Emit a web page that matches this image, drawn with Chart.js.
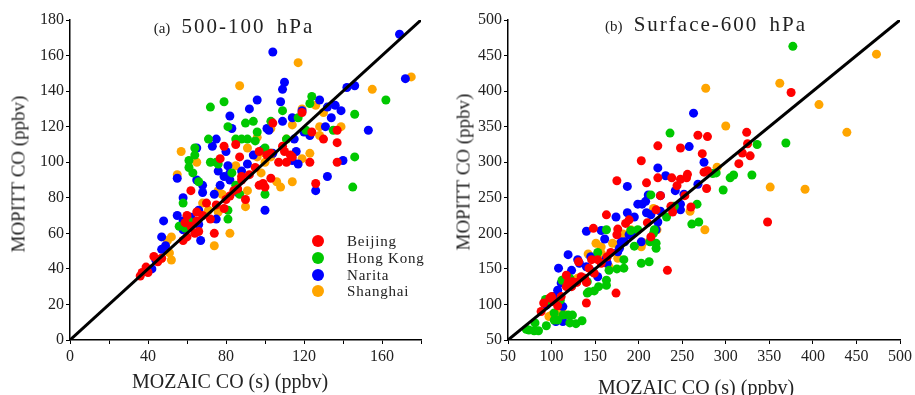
<!DOCTYPE html>
<html>
<head>
<meta charset="utf-8">
<script src="https://cdn.jsdelivr.net/npm/chart.js@4.4.1/dist/chart.umd.min.js"></script>
<style>
  body { margin: 0; background: #fff; }
  #wrap { position: relative; width: 915px; height: 395px; font-family: 'Liberation Serif', serif; color: #222; }
  .panel { position: absolute; top: 0; }
  .ttl { position: absolute; white-space: nowrap; transform: translate(-50%, -50%); line-height: 1; }
  .ytl { position: absolute; white-space: nowrap; transform: translate(-50%, -50%) rotate(-90deg); font-size: 19px; line-height: 1; }
  .leg { position: absolute; font-size: 15px; letter-spacing: 0.8px; line-height: 1; }
  .leg span { position: absolute; width: 12px; height: 12px; border-radius: 50%; }
</style>
</head>
<body>
<div id="wrap">
  <div class="panel" style="left:0;width:455px;height:395px"><canvas id="chartA" width="455" height="395"></canvas></div>
  <div class="panel" style="left:455px;width:460px;height:395px"><canvas id="chartB" width="460" height="395"></canvas></div>

  <div class="ttl" style="left:234px;top:26px;font-size:21px;letter-spacing:2px;word-spacing:4px"><span style="font-size:15px;letter-spacing:0">(a)</span> 500-100 hPa</div>
  <div class="ttl" style="left:706px;top:24px;font-size:21px;letter-spacing:2px;word-spacing:4px"><span style="font-size:15px;letter-spacing:0">(b)</span> Surface-600 hPa</div>

  <div class="ttl" style="left:230px;top:381px;font-size:20px">MOZAIC CO (s) (ppbv)</div>
  <div class="ttl" style="left:696px;top:387px;font-size:20px">MOZAIC CO (s) (ppbv)</div>
  <div class="ytl" style="left:18px;top:174px">MOPITT CO (ppbv)</div>
  <div class="ytl" style="left:463px;top:172px">MOPITT CO (ppbv)</div>

  <div id="legend"></div>
</div>

<script>
// station names and colours
var stations = ['Beijing', 'Hong Kong', 'Narita', 'Shanghai'];
var colors = ['#ff0000', '#00c800', '#0000ff', '#ffa500'];

// (a) 500-100 hPa, [MOZAIC, MOPITT] pairs
var beijingA = [[119,128],[137,118],[130,113],[124,117],[137,111],[137,100],[123,100],[126,88],[107,100],[109,109],[110,106],[113,104],[114,103],[104,122],[97,106],[103,91],[99,88],[100,86],[97,87],[90,79],[85,110],[79,109],[77,102],[87,103],[88,92],[62,84],[60,70],[75,76],[70,77],[72,68],[74,60],[66,61],[64,60],[58,56],[60,58],[62,64],[65,67],[82,81],[80,79],[79,74],[39,41],[37,38],[36,36],[40,38],[43,47],[59,66],[111,100],[84,84],[86,85],[88,90],[92,93],[101,104],[103,105],[95,97],[65,72],[68,70],[45,44],[47,46]];
var hongkongA = [[162,135],[146,127],[146,103],[145,86],[124,137],[123,133],[109,129],[103,123],[117,125],[94,123],[90,122],[96,117],[91,113],[85,113],[88,113],[95,112],[135,118],[121,118],[72,131],[79,134],[81,120],[71,113],[64,108],[64,104],[61,101],[61,97],[63,94],[72,100],[75,100],[76,99],[58,77],[66,89],[100,108],[100,82],[87,82],[81,73],[81,68],[56,64],[59,63],[61,67],[83,94],[85,87],[103,105],[111,113]];
var naritaA = [[104,162],[169,172],[172,147],[110,145],[109,141],[96,135],[108,134],[92,130],[82,126],[83,119],[75,113],[73,109],[65,108],[80,106],[55,91],[65,90],[58,80],[68,87],[68,83],[74,82],[77,87],[76,95],[81,98],[79,92],[82,94],[82,90],[86,83],[88,95],[91,99],[94,104],[99,107],[101,119],[109,123],[114,125],[119,129],[115,113],[116,106],[114,101],[117,99],[120,117],[123,115],[128,135],[132,131],[134,125],[136,132],[139,129],[142,142],[146,143],[153,118],[131,120],[140,101],[132,92],[126,84],[100,73],[48,67],[47,58],[55,70],[58,67],[58,62],[62,69],[66,65],[67,56],[66,73],[75,68],[47,51],[44,45],[42,40],[49,53],[104,105],[102,118]];
var shanghaiA = [[117,156],[175,148],[155,141],[87,143],[119,130],[126,132],[130,128],[128,120],[139,120],[128,115],[123,105],[114,89],[108,86],[106,89],[98,94],[100,100],[96,103],[103,103],[91,108],[114,121],[103,119],[111,113],[96,114],[85,98],[91,84],[90,75],[82,60],[74,53],[76,84],[78,82],[71,73],[76,72],[68,77],[65,100],[57,106],[55,93],[52,58],[50,56],[48,51],[51,49],[47,46],[52,45],[100,105],[119,102]];

// (b) Surface-600 hPa
var beijingB = [[375,398],[324,342],[325,326],[319,313],[328,309],[315,298],[348,216],[279,336],[268,338],[273,312],[275,286],[279,288],[278,263],[256,283],[255,278],[248,276],[248,320],[222,323],[203,302],[209,271],[222,278],[238,278],[244,267],[225,253],[253,253],[237,238],[239,230],[260,237],[220,233],[210,215],[233,148],[214,195],[189,219],[185,214],[176,206],[175,198],[175,274],[174,116],[163,226],[168,173],[157,158],[146,163],[148,207],[143,151],[149,144],[140,102],[140,131],[131,160],[134,139],[129,131],[123,125],[117,141],[117,125],[111,111],[107,98],[100,111],[98,109],[91,102],[88,90],[164,167],[153,163],[138,137],[124,132],[119,131],[103,104]];
var hongkongB = [[377,463],[369,327],[336,325],[330,282],[309,282],[305,278],[297,261],[289,285],[285,284],[236,341],[267,241],[269,216],[261,213],[241,238],[232,223],[214,254],[220,186],[220,179],[212,160],[203,158],[195,182],[191,204],[183,163],[183,151],[175,150],[166,148],[163,205],[163,134],[163,127],[154,125],[149,119],[143,118],[141,116],[153,173],[141,132],[121,137],[112,134],[110,106],[124,85],[119,85],[113,85],[103,78],[135,77],[128,73],[121,74],[107,78],[94,70],[81,74],[80,63],[74,64],[85,63],[71,65],[103,88],[100,104],[93,107],[213,188],[218,205],[217,200],[199,205]];
var naritaB = [[263,369],[275,300],[258,322],[222,292],[231,281],[268,269],[187,266],[211,254],[208,245],[204,241],[199,241],[225,253],[252,255],[242,260],[248,241],[248,233],[225,231],[209,229],[214,226],[222,216],[220,205],[187,229],[195,223],[189,198],[184,188],[178,179],[176,174],[174,223],[157,204],[161,192],[140,203],[145,167],[140,153],[132,158],[130,163],[123,148],[119,170],[108,151],[111,130],[107,120],[113,97],[105,76],[113,76],[94,99],[102,111],[147,146],[153,139],[164,158],[195,201],[203,188],[214,191],[180,188],[163,165]];
var shanghaiB = [[473,452],[362,411],[277,404],[407,381],[300,351],[439,342],[290,293],[351,265],[391,262],[276,205],[259,231],[239,238],[217,235],[221,205],[205,187],[203,181],[182,199],[176,184],[170,186],[176,165],[151,186],[157,181],[142,171],[166,153],[100,85],[97,83],[112,90],[109,88],[191,205],[157,172],[130,137]];

// 1:1 lines and axis ranges
var oneToOneA = [0, 180];
var oneToOneB = [50, 500];

function toPoints(arr) {
    return arr.map(function (p) { return { x: p[0], y: p[1] }; });
}

function makeChart(id, series, diag, step, labelStep, yWidth, padRight) {
    var datasets = [{
        type: 'scatter',
        data: diag.map(function (v) { return { x: v, y: v }; }),
        showLine: true,
        borderColor: '#000',
        borderWidth: 3,
        pointRadius: 0,
        order: 0
    }];
    series.forEach(function (s, i) {
        datasets.push({
            label: stations[i],
            data: toPoints(s),
            backgroundColor: colors[i],
            borderWidth: 0,
            pointRadius: 4.5,
            order: 1
        });
    });

    var tickFont = { family: 'Liberation Serif', size: 16 };
    return new Chart(document.getElementById(id).getContext('2d'), {
        type: 'scatter',
        data: { datasets: datasets },
        options: {
            responsive: false,
            animation: false,
            devicePixelRatio: 1,
            layout: { padding: { top: 20, right: padRight, bottom: 0, left: 0 } },
            plugins: { legend: { display: false }, tooltip: { enabled: false } },
            scales: {
                x: {
                    type: 'linear',
                    min: diag[0], max: diag[1],
                    ticks: {
                        stepSize: step, autoSkip: false, maxRotation: 0, padding: 3,
                        color: '#222', font: tickFont,
                        callback: function (v) { return v % labelStep === 0 ? v : ''; }
                    },
                    grid: { drawOnChartArea: false, color: '#000', tickLength: 4 },
                    border: { color: '#000', width: 1.5 },
                    afterFit: function (s) { s.height = 55; }
                },
                y: {
                    type: 'linear',
                    min: diag[0], max: diag[1],
                    ticks: { stepSize: step, autoSkip: false, padding: 2, color: '#222', font: tickFont },
                    grid: { drawOnChartArea: false, color: '#000', tickLength: 4 },
                    border: { color: '#000', width: 1.5 },
                    afterFit: function (s) { s.width = yWidth; }
                }
            }
        }
    });
}

makeChart('chartA', [beijingA, hongkongA, naritaA, shanghaiA], oneToOneA, 20, 40, 70, 34);
makeChart('chartB', [beijingB, hongkongB, naritaB, shanghaiB], oneToOneB, 50, 50, 53, 13);

// legend inside panel (a)
var leg = document.getElementById('legend');
stations.forEach(function (name, i) {
    var row = document.createElement('div');
    row.className = 'leg';
    row.style.left = '347px';
    row.style.top = (234 + i * 16.8) + 'px';
    row.innerHTML = '<span style="left:-35px;top:1px;background:' + colors[i] + '"></span>' + name;
    leg.appendChild(row);
});
</script>
</body>
</html>
